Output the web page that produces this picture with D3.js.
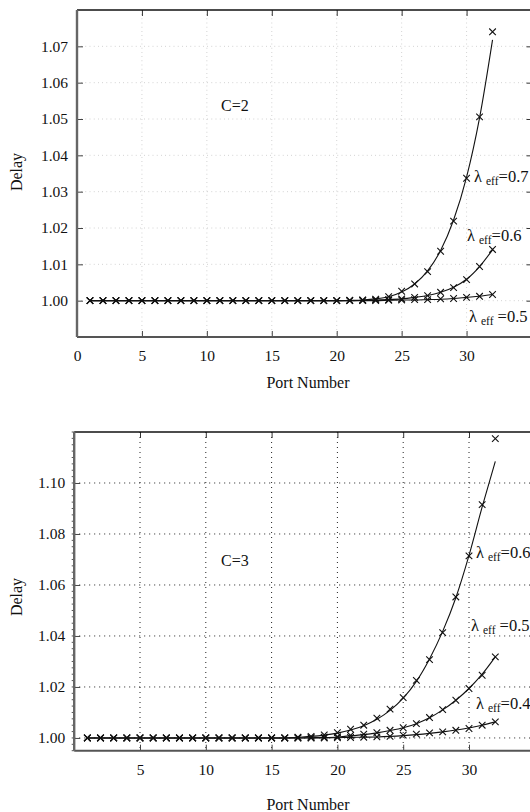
<!DOCTYPE html>
<html>
<head>
<meta charset="utf-8">
<script src="https://cdn.jsdelivr.net/npm/d3@7"></script>
<style>
  body { margin: 0; background: #fff; }
  svg text { font-family: "Liberation Serif", "DejaVu Serif", serif; fill: #111; }
</style>
</head>
<body>
<svg id="canvas" width="530" height="812"></svg>
<script>
// port numbers 1..32
const ports = [1,2,3,4,5,6,7,8,9,10,11,12,13,14,15,16,17,18,19,20,21,22,23,24,25,26,27,28,29,30,31,32];

// C=2 panel : simulation (markers) and analysis (lines)
const c2Sim07 = [1,1,1,1,1,1,1,1,1,1,1,1,1,1,1,1,1,1,1,1,1.0001,1.0002,1.0004,1.0011,1.0026,1.0046,1.0080,1.0136,1.0219,1.0337,1.0506,1.0740];
const c2Ana07 = [1,1,1,1,1,1,1,1,1,1,1,1,1,1,1,1,1,1,1,1,1.0001,1.0002,1.0005,1.0011,1.0024,1.0046,1.0082,1.0138,1.0222,1.0340,1.0503,1.0718];
const c2Sim06 = [1,1,1,1,1,1,1,1,1,1,1,1,1,1,1,1,1,1,1,1,1.0000,1.0001,1.0002,1.0003,1.0005,1.0009,1.0014,1.0023,1.0036,1.0058,1.0094,1.0141];
const c2Ana06 = [1,1,1,1,1,1,1,1,1,1,1,1,1,1,1,1,1,1,1,1,1.0000,1.0001,1.0002,1.0003,1.0005,1.0009,1.0014,1.0023,1.0037,1.0059,1.0094,1.0140];
const c2Sim05 = [1,1,1,1,1,1,1,1,1,1,1,1,1,1,1,1,1,1,1,1,1,1,1,1.0001,1.0002,1.0003,1.0003,1.0005,1.0006,1.0009,1.0012,1.0017];
const c2Ana05 = [1,1,1,1,1,1,1,1,1,1,1,1,1,1,1,1,1,1,1,1,1,1,1,1.0001,1.0002,1.0002,1.0003,1.0004,1.0006,1.0009,1.0012,1.0017];

// C=3 panel
const c3Sim06 = [1,1,1,1,1,1,1,1,1,1,1,1,1,1,1,1,1.0003,1.0006,1.0012,1.0021,1.0034,1.0050,1.0078,1.0113,1.0158,1.0226,1.0307,1.0413,1.0553,1.0714,1.0915,1.1174];
const c3Ana06 = [1,1,1,1,1,1,1,1,1,1,1,1,1,1,1,1,1.0003,1.0006,1.0011,1.0019,1.0031,1.0048,1.0073,1.0108,1.0156,1.0222,1.0310,1.0418,1.0550,1.0716,1.0906,1.1085];
const c3Sim05 = [1,1,1,1,1,1,1,1,1,1,1,1,1,1,1,1,1,1.0001,1.0003,1.0005,1.0010,1.0015,1.0021,1.0030,1.0040,1.0056,1.0080,1.0111,1.0148,1.0194,1.0246,1.0318];
const c3Ana05 = [1,1,1,1,1,1,1,1,1,1,1,1,1,1,1,1,1,1.0001,1.0002,1.0004,1.0008,1.0013,1.0020,1.0029,1.0040,1.0056,1.0079,1.0110,1.0148,1.0194,1.0250,1.0318];
const c3Sim04 = [1,1,1,1,1,1,1,1,1,1,1,1,1,1,1,1,1,1,1,1.0001,1.0002,1.0003,1.0004,1.0006,1.0011,1.0015,1.0020,1.0024,1.0030,1.0037,1.0050,1.0063];
const c3Ana04 = [1,1,1,1,1,1,1,1,1,1,1,1,1,1,1,1,1,1,1,1.0001,1.0002,1.0003,1.0004,1.0006,1.0009,1.0013,1.0018,1.0024,1.0031,1.0039,1.0050,1.0063];

const c2YTicks = [1.00, 1.01, 1.02, 1.03, 1.04, 1.05, 1.06, 1.07];
const c2XTicks = [0, 5, 10, 15, 20, 25, 30];
const c3YTicks = [1.00, 1.02, 1.04, 1.06, 1.08, 1.10];
const c3XTicks = [5, 10, 15, 20, 25, 30];

const svg = d3.select('svg#canvas');

function drawPanel(cfg) {
    const x = d3.scaleLinear().domain([0, 35]).range(cfg.xRange);
    const y = d3.scaleLinear().domain(cfg.yDomain).range(cfg.yRange);
    const g = svg.append('g');
    const [x0, x1] = cfg.xRange, [y1, y0] = cfg.yRange;

    // grid
    g.selectAll('line.vgrid').data(cfg.xTicks.filter(d => d > 0)).enter().append('line')
        .attr('x1', d => x(d)).attr('x2', d => x(d)).attr('y1', y0).attr('y2', y1)
        .attr('stroke', cfg.gridColor).attr('stroke-width', cfg.gridWidth)
        .attr('stroke-dasharray', cfg.gridDash);
    g.selectAll('line.hgrid').data(cfg.yTicks).enter().append('line')
        .attr('x1', x0).attr('x2', x1).attr('y1', d => y(d)).attr('y2', d => y(d))
        .attr('stroke', cfg.gridColor).attr('stroke-width', cfg.gridWidth)
        .attr('stroke-dasharray', cfg.gridDash);

    // axes (ticks inward)
    const tickLen = 6;
    g.append('g').attr('transform', `translate(0,${y1})`)
        .call(d3.axisBottom(x).tickValues(cfg.xTicks).tickSize(-tickLen).tickPadding(13).tickFormat(d3.format('d')))
        .call(a => a.select('.domain').remove())
        .call(a => a.selectAll('line').attr('stroke', '#444'))
        .call(a => a.selectAll('text').attr('font-size', 15.5).attr('fill', '#111'));
    g.append('g').attr('transform', `translate(0,${y0})`)
        .call(d3.axisTop(x).tickValues(cfg.xTicks.filter(d => d > 0)).tickSize(-tickLen).tickFormat(''))
        .call(a => a.select('.domain').remove())
        .call(a => a.selectAll('line').attr('stroke', '#333'));
    g.append('g').attr('transform', `translate(${x0},0)`)
        .call(d3.axisLeft(y).tickValues(cfg.yTicks).tickSize(-tickLen).tickPadding(9).tickFormat(d3.format('.2f')))
        .call(a => a.select('.domain').remove())
        .call(a => a.selectAll('line').attr('stroke', '#444'))
        .call(a => a.selectAll('text').attr('font-size', 15.5).attr('fill', '#111'));
    g.append('g').attr('transform', `translate(${x1},0)`)
        .call(d3.axisRight(y).tickValues(cfg.yTicks).tickSize(-5).tickFormat(''))
        .call(a => a.select('.domain').remove())
        .call(a => a.selectAll('line').attr('stroke', '#333'));

    if (cfg.minor) {
        g.selectAll('line.minor').data(d3.range(cfg.yDomain[0], cfg.yDomain[1], cfg.minor)).enter().append('line')
            .attr('x1', x0 - 2.5).attr('x2', x0).attr('y1', d => y(d)).attr('y2', d => y(d))
            .attr('stroke', '#555').attr('stroke-width', 1);
    }

    // frame
    g.append('line').attr('x1', x0).attr('x2', x1).attr('y1', y0).attr('y2', y0)
        .attr('stroke', '#111').attr('stroke-width', 1.6);
    g.append('line').attr('x1', x0).attr('x2', x1).attr('y1', y1).attr('y2', y1)
        .attr('stroke', '#555').attr('stroke-width', 2);
    g.append('line').attr('x1', x0).attr('x2', x0).attr('y1', y0).attr('y2', y1)
        .attr('stroke', '#666').attr('stroke-width', 2.4);
    g.append('line').attr('x1', x1).attr('x2', x1).attr('y1', y0).attr('y2', y1)
        .attr('stroke', '#333').attr('stroke-width', 1.2);

    // analysis curves
    const line = d3.line().x((d, i) => x(ports[i])).y(d => y(d)).curve(d3.curveMonotoneX);
    cfg.series.forEach(s => {
        g.append('path').datum(s.ana).attr('d', line)
            .attr('fill', 'none').attr('stroke', '#111').attr('stroke-width', 1.1);
    });

    // simulation markers
    const m = 3.3;
    cfg.series.forEach(s => {
        g.append('g').selectAll('path').data(s.sim).enter().append('path')
            .attr('d', (d, i) => {
                const cx = x(ports[i]), cy = y(d);
                return `M${cx - m},${cy - m}L${cx + m},${cy + m}M${cx - m},${cy + m}L${cx + m},${cy - m}`;
            })
            .attr('stroke', '#111').attr('stroke-width', 1.1).attr('fill', 'none');
    });

    // labels
    g.append('text').attr('x', 308).attr('y', cfg.xTitleY)
        .attr('text-anchor', 'middle').attr('font-size', 16).text('Port Number');
    g.append('text').attr('transform', `translate(22,${cfg.yTitleY}) rotate(-90)`)
        .attr('text-anchor', 'middle').attr('font-size', 16).text('Delay');
    g.append('text').attr('x', 221).attr('y', cfg.cY).attr('font-size', 16).text(cfg.cLabel);

    cfg.series.forEach(s => {
        const t = g.append('text').attr('x', s.lx).attr('y', s.ly).attr('font-size', 16.5);
        t.append('tspan').text('λ');
        t.append('tspan').attr('font-size', 11.5).attr('dx', 4).attr('dy', 3).text('eff');
        t.append('tspan').attr('dx', s.gap ? 4 : 0).attr('dy', -3).text('=' + s.lam);
    });
}

drawPanel({
    xRange: [77, 531.5], yRange: [337, 10], yDomain: [0.99, 1.08],
    xTicks: c2XTicks, yTicks: c2YTicks,
    gridColor: '#bbb', gridWidth: 0.8, gridDash: '0.8,3.4',
    xTitleY: 388, yTitleY: 172, cLabel: 'C=2', cY: 111,
    series: [
        {sim: c2Sim07, ana: c2Ana07, lam: '0.7', lx: 474, ly: 182},
        {sim: c2Sim06, ana: c2Ana06, lam: '0.6', lx: 467, ly: 241},
        {sim: c2Sim05, ana: c2Ana05, lam: '0.5', lx: 469, ly: 322, gap: true}
    ]
});

drawPanel({
    xRange: [74.2, 534.8], yRange: [750.7, 432], yDomain: [0.995, 1.12],
    xTicks: c3XTicks, yTicks: c3YTicks, minor: 0.0025,
    gridColor: '#222', gridWidth: 1, gridDash: '1,4',
    xTitleY: 810, yTitleY: 597, cLabel: 'C=3', cY: 566,
    series: [
        {sim: c3Sim06, ana: c3Ana06, lam: '0.6', lx: 476, ly: 558},
        {sim: c3Sim05, ana: c3Ana05, lam: '0.5', lx: 471, ly: 631, gap: true},
        {sim: c3Sim04, ana: c3Ana04, lam: '0.4', lx: 476, ly: 709}
    ]
});
</script>
</body>
</html>
